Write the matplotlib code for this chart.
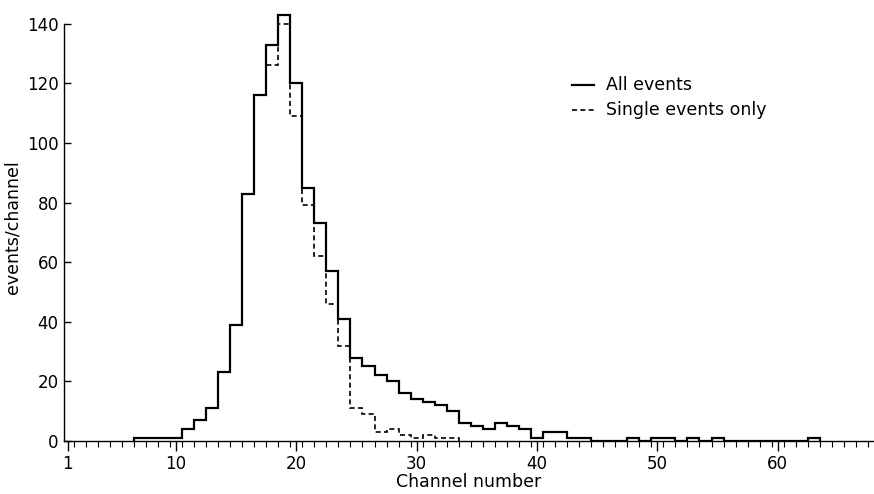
import numpy as np
import matplotlib
matplotlib.use("Agg")
import matplotlib.pyplot as plt

# channel numbers (bin centres) and counts
channels = list(range(7, 64))
all_events = [1, 1, 1, 1, 4, 7, 11, 23, 39, 83,
              116, 133, 143, 120, 85, 73, 57, 41, 28, 25,
              22, 20, 16, 14, 13, 12, 10, 6, 5, 4,
              6, 5, 4, 1, 3, 3, 1, 1, 0, 0,
              0, 1, 0, 1, 1, 0, 1, 0, 1, 0,
              0, 0, 0, 0, 0, 0, 1]

single_channels = list(range(7, 34))
single_events = [1, 1, 1, 1, 4, 7, 11, 23, 39, 83,
                 116, 126, 140, 109, 79, 62, 46, 32, 11, 9,
                 3, 4, 2, 1, 2, 1, 1]

xticks = [1, 10, 20, 30, 40, 50, 60]
yticks = [0, 20, 40, 60, 80, 100, 120, 140]

fig = plt.figure(figsize=(8.74, 4.94), dpi=100)
ax = fig.add_axes([64 / 874, 0.1073, 1 - 64 / 874, 0.875])

edges = np.arange(channels[0] - 0.5, channels[-1] + 1.0)
ax.stairs(all_events, edges, baseline=0, color='black', lw=1.6, zorder=3)

sedges = np.arange(single_channels[0] - 0.5, single_channels[-1] + 1.0)
ax.stairs(single_events, sedges, baseline=0, color='black', lw=1.2,
          linestyle=(0, (3, 2)), zorder=4)

ax.set_xlim(0.7, 68)
ax.set_ylim(0, 145)

for s in ['top', 'right']:
    ax.spines[s].set_visible(False)
ax.spines['left'].set_bounds(0, 140)
ax.spines['left'].set_linewidth(1.0)
ax.spines['bottom'].set_linewidth(1.0)

ax.set_xticks(xticks)
ax.set_xticks(np.arange(1.5, 68, 1.0), minor=True)
ax.set_yticks(yticks)
ax.tick_params(axis='x', which='major', direction='out', length=7, width=1,
               labelsize=12, pad=3)
ax.tick_params(axis='x', which='minor', direction='out', length=4, width=0.8)
ax.tick_params(axis='y', direction='in', length=5, width=1,
               labelsize=12, pad=4)

ax.set_xlabel("Channel number", fontsize=12.5, labelpad=0)
ax.set_ylabel("events/channel", fontsize=12.5)
ax.yaxis.set_label_coords(-0.052, 0.495)

# legend drawn as in the original figure
ax.plot([0.627, 0.654], [0.824, 0.824], transform=ax.transAxes,
        color='black', lw=1.6)
ax.plot([0.627, 0.654], [0.766, 0.766], transform=ax.transAxes,
        color='black', lw=1.2, linestyle=(0, (3, 2)))
ax.text(0.669, 0.824, "All events", transform=ax.transAxes,
        fontsize=12.5, va='center')
ax.text(0.669, 0.766, "Single events only", transform=ax.transAxes,
        fontsize=12.5, va='center')

fig.savefig("out.png", dpi=100)
